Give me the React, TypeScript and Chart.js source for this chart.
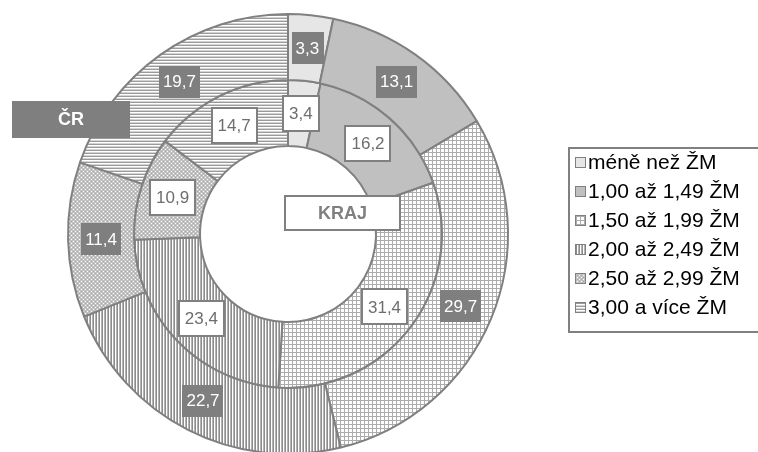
import React, { useEffect, useRef } from 'react';
import { Chart, ArcElement, DoughnutController } from 'chart.js';

Chart.register(ArcElement, DoughnutController);

const categories = ['méně než ŽM', '1,00 až 1,49 ŽM', '1,50 až 1,99 ŽM', '2,00 až 2,49 ŽM', '2,50 až 2,99 ŽM', '3,00 a více ŽM'];
const seriesNames = ['ČR', 'KRAJ'];
const crValues = [3.3, 13.1, 29.7, 22.7, 11.4, 19.7];
const krajValues = [3.4, 16.2, 31.4, 23.4, 10.9, 14.7];

const FONT = '"Liberation Sans", Arial, sans-serif';
const GREY = '#808080';

function makePattern(kind: number): CanvasPattern | string {
  if (kind === 0) return '#e6e6e6';
  if (kind === 1) return '#c0c0c0';
  const c = document.createElement('canvas');
  const g = c.getContext('2d')!;
  if (kind === 2) {
    c.width = 4; c.height = 4;
    g.fillStyle = '#ffffff'; g.fillRect(0, 0, 4, 4);
    g.fillStyle = '#acacac'; g.fillRect(0, 0, 4, 1); g.fillRect(0, 0, 1, 4);
  } else if (kind === 3) {
    c.width = 3; c.height = 1;
    g.fillStyle = '#8c8c8c'; g.fillRect(0, 0, 1, 1);
    g.fillStyle = '#ffffff'; g.fillRect(1, 0, 1, 1);
    g.fillStyle = '#b4b4b4'; g.fillRect(2, 0, 1, 1);
  } else if (kind === 4) {
    c.width = 4; c.height = 4;
    g.fillStyle = '#c2c2c2'; g.fillRect(0, 0, 4, 4);
    g.fillStyle = '#ffffff'; g.fillRect(1, 1, 1, 1); g.fillRect(3, 3, 1, 1);
    g.fillStyle = '#a8a8a8'; g.fillRect(3, 1, 1, 1); g.fillRect(1, 3, 1, 1);
  } else {
    c.width = 1; c.height = 3;
    g.fillStyle = '#9a9a9a'; g.fillRect(0, 0, 1, 1);
    g.fillStyle = '#ffffff'; g.fillRect(0, 1, 1, 1);
    g.fillStyle = '#d4d4d4'; g.fillRect(0, 2, 1, 1);
  }
  return g.createPattern(c, 'repeat')!;
}

const fmt = (v: number) => v.toFixed(1).replace('.', ',');

export default function App() {
  const ref = useRef<HTMLCanvasElement>(null);
  useEffect(() => {
    const canvas = ref.current!;
    const fills = categories.map((_, i) => makePattern(i));

    const overlay = {
      id: 'overlay',
      afterDatasetsDraw(chart: any) {
        const ctx = chart.ctx as CanvasRenderingContext2D;
        ctx.save();
        ctx.textAlign = 'center';
        ctx.textBaseline = 'middle';
        // data labels
        chart.data.datasets.forEach((ds: any, di: number) => {
          const meta = chart.getDatasetMeta(di);
          meta.data.forEach((arc: any, i: number) => {
            const p = arc.tooltipPosition(false);
            const txt = fmt(ds.data[i]);
            ctx.font = '17px ' + FONT;
            const tw = ctx.measureText(txt).width;
            if (di === 0) {
              const w = tw + 8, h = 32;
              ctx.fillStyle = '#7f7f7f';
              ctx.fillRect(Math.round(p.x - w / 2), Math.round(p.y - h / 2), Math.round(w), h);
              ctx.fillStyle = '#ffffff';
              ctx.fillText(txt, p.x, p.y + 1);
            } else {
              const w = tw + 12, h = 35;
              ctx.fillStyle = '#ffffff';
              ctx.fillRect(Math.round(p.x - w / 2), Math.round(p.y - h / 2), Math.round(w), h);
              ctx.strokeStyle = GREY; ctx.lineWidth = 2;
              ctx.strokeRect(Math.round(p.x - w / 2), Math.round(p.y - h / 2), Math.round(w), h);
              ctx.fillStyle = '#6e6e6e';
              ctx.fillText(txt, p.x, p.y + 1);
            }
          });
        });
        // series name boxes
        ctx.font = 'bold 18px ' + FONT;
        ctx.fillStyle = '#7f7f7f';
        ctx.fillRect(12, 101, 118, 37);
        ctx.fillStyle = '#ffffff';
        ctx.fillText(chart.data.datasets[0].label, 71, 120);
        ctx.fillStyle = '#ffffff';
        ctx.fillRect(285, 196, 115, 34);
        ctx.strokeStyle = GREY; ctx.lineWidth = 2;
        ctx.strokeRect(285, 196, 115, 34);
        ctx.fillStyle = '#7f7f7f';
        ctx.fillText(chart.data.datasets[1].label, 342.5, 214);
        // legend
        ctx.strokeStyle = GREY; ctx.lineWidth = 2;
        ctx.strokeRect(569, 148, 220, 184);
        ctx.textAlign = 'left';
        ctx.font = '21px ' + FONT;
        (chart.data.labels as string[]).forEach((lab, i) => {
          const cy = 162 + i * 29;
          ctx.fillStyle = fills[i] as any;
          ctx.fillRect(575, Math.round(cy - 5), 11, 11);
          ctx.strokeStyle = GREY; ctx.lineWidth = 1;
          ctx.strokeRect(575.5, Math.round(cy - 5) + 0.5, 10, 10);
          ctx.fillStyle = '#000000';
          ctx.fillText(lab, 588, cy + 1);
        });
        ctx.restore();
      },
    };

    const chart = new Chart(canvas, {
      type: 'doughnut',
      data: {
        labels: categories,
        datasets: [
          { label: seriesNames[0], data: crValues, backgroundColor: fills as any, borderColor: GREY, borderWidth: 2 },
          { label: seriesNames[1], data: krajValues, backgroundColor: fills as any, borderColor: GREY, borderWidth: 2 },
        ],
      },
      options: {
        responsive: false,
        animation: false,
        cutout: '40%',
        layout: { padding: { left: 67, top: 13, right: 249, bottom: 7 } },
        plugins: { legend: { display: false }, tooltip: { enabled: false } },
      } as any,
      plugins: [overlay],
    });
    return () => chart.destroy();
  }, []);
  return (
    <div style={{ position: 'absolute', left: 0, top: 0, width: 758, height: 452, overflow: 'hidden', background: '#fff' }}>
      <canvas ref={ref} width={758} height={462} style={{ display: 'block' }} />
    </div>
  );
}
